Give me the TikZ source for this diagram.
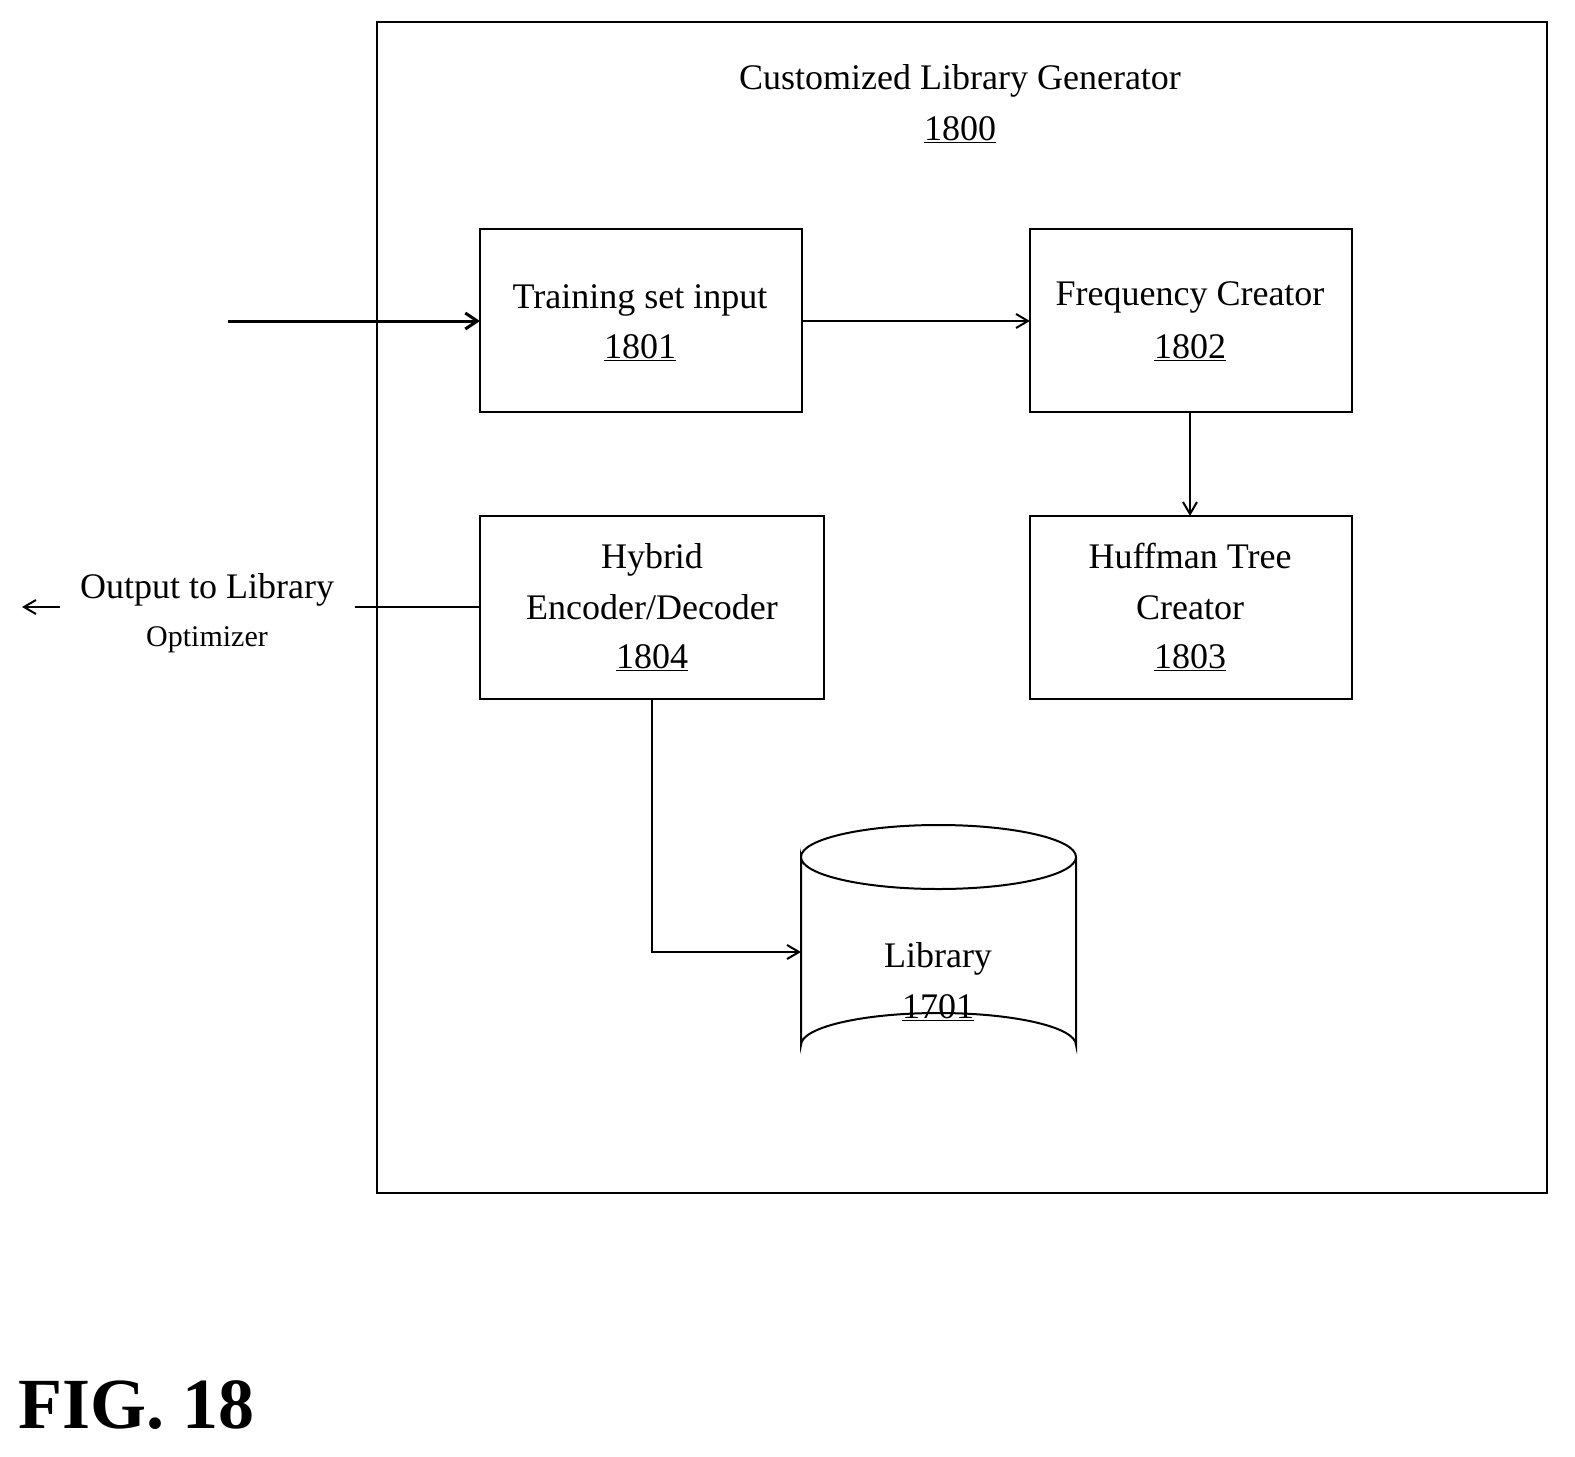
\documentclass[tikz,border=0pt]{standalone}
\usepackage{fontspec}
\setmainfont{Liberation Serif}
\usetikzlibrary{shapes.geometric,arrows.meta}
\begin{document}
\begin{tikzpicture}[x=1pt,y=-1pt,
 box/.style={draw,line width=2pt,inner sep=0pt},
 txt/.style={font=\fontsize{36}{36}\selectfont,inner sep=0pt,anchor=base},
 arr/.style={line width=2pt,-{Straight Barb[length=12pt,width=14pt]}}]
\useasboundingbox (0,0) rectangle (1575,1457);
\draw[box] (377,22) rectangle (1547,1193);
\node[txt] (t1) at (960,89) {Customized Library Generator};
\node[txt] (t2) at (960,140) {\underline{1800}};
\draw[box] (480,229) rectangle (802,412);
\coordinate (b1w) at (480,321); \coordinate (b1e) at (802,321);
\node[txt] (a1) at (640,308) {Training set input};
\node[txt] (a2) at (640,358) {\underline{1801}};
\draw[box] (1030,229) rectangle (1352,412);
\coordinate (b2w) at (1030,321); \coordinate (b2s) at (1190,412);
\node[txt] (c1) at (1190,305) {Frequency Creator};
\node[txt] (c2) at (1190,358) {\underline{1802}};
\draw[box] (1030,516) rectangle (1352,699);
\coordinate (b3n) at (1190,516);
\node[txt] (d1) at (1190,568) {Huffman Tree};
\node[txt] (d2) at (1190,619) {Creator};
\node[txt] (d3) at (1190,668) {\underline{1803}};
\draw[box] (480,516) rectangle (824,699);
\coordinate (b4w) at (480,607); \coordinate (b4s) at (652,699);
\node[txt] (e1) at (652,568) {Hybrid};
\node[txt] (e2) at (652,619) {Encoder/Decoder};
\node[txt] (e3) at (652,668) {\underline{1804}};
% cylinder
\draw[line width=2pt] (801,857) arc[start angle=180,end angle=360,x radius=137.5,y radius=32] arc[start angle=0,end angle=180,x radius=137.5,y radius=32] -- (801,1045) arc[start angle=180,end angle=360,x radius=137.5,y radius=32] -- (1076,857);
\coordinate (cylw) at (801,952);
\node[txt] (f1) at (938,967) {Library};
\node[txt] (f2) at (938,1018) {\underline{1701}};
\coordinate (in) at (228,321);
\draw[line width=3pt,-{Straight Barb[length=12pt,width=16pt]}] (in) -- (b1w);
\draw[arr] (b1e) -- (b2w);
\draw[arr] (b2s) -- (b3n);
\draw[arr] (b4s) |- (cylw);
\coordinate (o1) at (355,607); \coordinate (o2) at (60,607); \coordinate (o3) at (22,607);
\draw[line width=2pt] (b4w) -- (o1);
\draw[arr] (o2) -- (o3);
\node[txt] (g1) at (207,598) {Output to Library};
\node[txt,font=\fontsize{30}{30}\selectfont] (g2) at (207,646) {Optimizer};
\node[inner sep=0pt,anchor=base west,font=\fontsize{72}{72}\selectfont\bfseries] (fig) at (18,1428) {FIG. 18};
\end{tikzpicture}
\end{document}
